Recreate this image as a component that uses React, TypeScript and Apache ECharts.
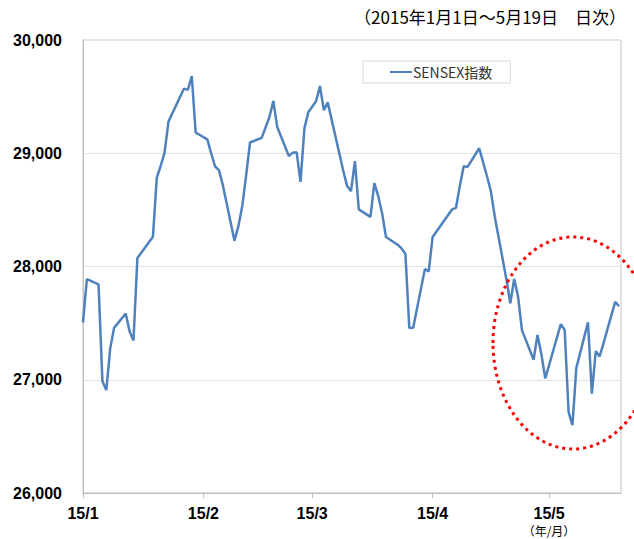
import React, { useEffect, useRef } from "react";
import * as echarts from "echarts";

const dates: string[] = [
  "01-01","01-02","01-05","01-06","01-07","01-08","01-09","01-12","01-13","01-14","01-15","01-16","01-19","01-20","01-21","01-22","01-23","01-27","01-28","01-29","01-30",
  "02-02","02-03","02-04","02-05","02-06","02-09","02-10","02-11","02-12","02-13","02-16","02-18","02-19","02-20","02-23","02-24","02-25","02-26","02-27","02-28",
  "03-02","03-03","03-04","03-05","03-09","03-10","03-11","03-12","03-13","03-16","03-17","03-18","03-19","03-20","03-23","03-24","03-25","03-26","03-27","03-30","03-31",
  "04-01","04-06","04-07","04-08","04-09","04-10","04-13","04-15","04-16","04-17","04-20","04-21","04-22","04-23","04-24","04-27","04-28","04-29","04-30",
  "05-04","05-05","05-06","05-07","05-08","05-11","05-12","05-13","05-14","05-15","05-18","05-19"
];

const sensex: number[] = [
  27507,27888,27842,26987,26909,27275,27458,27585,27426,27347,28076,28122,28262,28785,28889,29006,29279,29571,29559,29682,29183,
  29122,29000,28883,28851,28718,28227,28356,28534,28805,29095,29136,29320,29462,29231,28975,29005,29008,28747,29220,29362,
  29459,29594,29381,29449,28845,28710,28665,28930,28504,28438,28736,28622,28470,28261,28192,28160,28112,27458,27459,27976,27957,
  28260,28504,28517,28708,28885,28879,29044,28797,28666,28442,27886,27676,27890,27735,27438,27177,27396,27226,27011,
  27491,27440,26717,26599,27105,27507,26877,27252,27206,27324,27687,27649
];

const tickDates: string[] = ["01-01", "02-01", "03-01", "04-01", "05-01"];
const tickLabels: string[] = ["15/1", "15/2", "15/3", "15/4", "15/5"];
const seriesName = "SENSEX指数";
const titleText = "（2015年1月1日～5月19日　日次）";
const unitText = "（年/月）";

const dayIndex = (md: string): number => {
  const [m, d] = md.split("-").map(Number);
  return (Date.UTC(2015, m - 1, d) - Date.UTC(2015, 0, 1)) / 86400000;
};

export default function App() {
  const ref = useRef<HTMLDivElement>(null);
  useEffect(() => {
    if (!ref.current) return;
    const chart = echarts.init(ref.current, undefined, { renderer: "svg" });
    const tickDays = tickDates.map(dayIndex);
    const data = dates.map((d, i) => [dayIndex(d), sensex[i]]);
    const font = "'Liberation Sans', Arial, sans-serif";
    const cjk = "'Noto Sans CJK JP', 'Noto Sans', sans-serif";
    chart.setOption({
      animation: false,
      backgroundColor: "#ffffff",
      grid: {
        left: 83,
        right: 13,
        top: 40,
        bottom: 46,
        show: true,
        borderColor: "#c4c4c4",
        borderWidth: 1,
        backgroundColor: "transparent",
      },
      legend: {
        data: [seriesName],
        left: 363,
        top: 61,
        orient: "horizontal",
        icon: "rect",
        itemWidth: 22,
        itemHeight: 2,
        padding: [4, 18, 4, 27],
        borderColor: "#d9d9d9",
        borderWidth: 1,
        backgroundColor: "#ffffff",
        textStyle: { fontSize: 14, color: "#333333", fontFamily: cjk, padding: [0, 0, 0, -4] },
      },
      xAxis: {
        type: "value",
        min: 0,
        max: 138.5,
        axisLine: { show: true, lineStyle: { color: "#bfbfbf", width: 1 } },
        axisTick: { show: true, length: 5, customValues: tickDays, lineStyle: { color: "#bfbfbf" } },
        splitLine: { show: false },
        axisLabel: {
          customValues: tickDays,
          margin: 12,
          fontSize: 16,
          fontWeight: "bold",
          fontFamily: font,
          color: "#000000",
          formatter: (v: number) => {
            const i = tickDays.indexOf(v);
            return i >= 0 ? tickLabels[i] : "";
          },
        },
      },
      yAxis: {
        type: "value",
        min: 26000,
        max: 30000,
        interval: 1000,
        axisLine: { show: true, lineStyle: { color: "#bfbfbf", width: 1 } },
        axisTick: { show: false },
        splitLine: { show: true, lineStyle: { color: "#e3e3e3", width: 1 } },
        axisLabel: {
          margin: 21,
          fontSize: 16,
          fontWeight: "bold",
          fontFamily: font,
          color: "#000000",
          formatter: (v: number) => v.toLocaleString("en-US"),
        },
      },
      series: [
        {
          name: seriesName,
          type: "line",
          data,
          showSymbol: false,
          symbol: "none",
          lineStyle: { color: "#4f81bd", width: 2.5 },
          itemStyle: { color: "#4f81bd" },
          z: 3,
        },
      ],
      graphic: [
        {
          type: "text",
          right: 8,
          top: 8,
          style: { text: titleText, fontSize: 17, fontFamily: cjk, fill: "#000000" },
        },
        {
          type: "text",
          x: 549,
          y: 530,
          style: { text: unitText, fontSize: 12, fontFamily: cjk, fill: "#000000", align: "center", verticalAlign: "middle" },
        },
        {
          type: "ellipse",
          shape: { cx: 573, cy: 343, rx: 80, ry: 106 },
          style: { fill: "none", stroke: "#ff0000", lineWidth: 3, lineDash: [3, 4] },
          z: 100,
        },
      ],
    });
    return () => chart.dispose();
  }, []);
  return <div ref={ref} style={{ position: "fixed", left: 0, top: 0, width: 634, height: 539 }} />;
}
